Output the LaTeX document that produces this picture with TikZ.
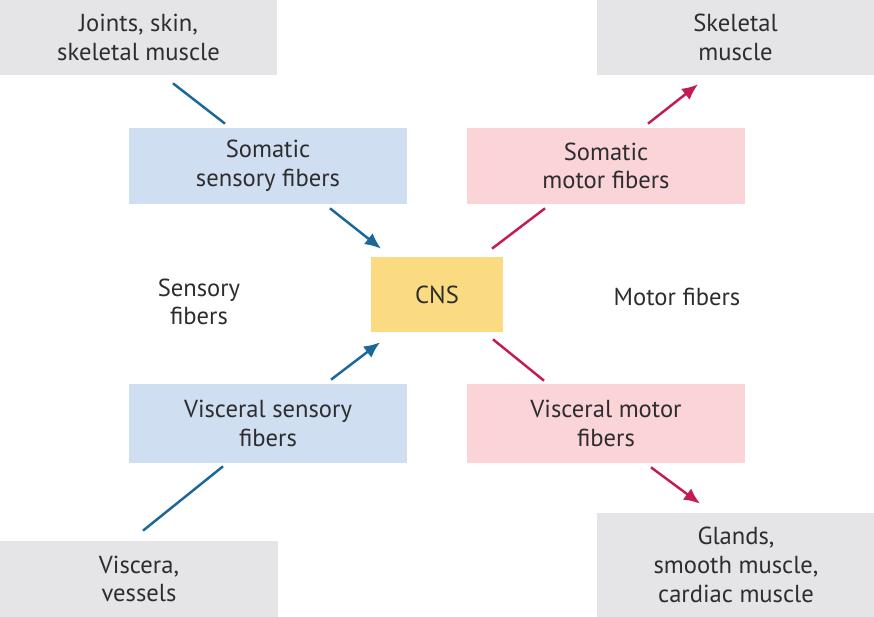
\documentclass[tikz,border=0pt]{standalone}
\usepackage{fontspec}
\setmainfont{PT Sans}
\usetikzlibrary{arrows.meta}

\definecolor{grayfill}{RGB}{229,229,231}
\definecolor{bluefill}{RGB}{207,222,240}
\definecolor{pinkfill}{RGB}{250,212,214}
\definecolor{cnsfill}{RGB}{250,219,130}
\definecolor{bluelin}{RGB}{26,104,154}
\definecolor{pinklin}{RGB}{196,26,88}
\definecolor{txtcol}{RGB}{45,45,47}

\tikzset{
  box/.style={inner sep=0pt, align=center, text=txtcol,
    minimum width=5.56cm, font=\fontsize{14}{16.3}\selectfont},
  graybox/.style={box, fill=grayfill},
  sensbox/.style={box, fill=bluefill},
  motbox/.style={box, fill=pinkfill},
  sensline/.style={draw=bluelin, line width=1.4pt},
  motline/.style={draw=pinklin, line width=1.4pt},
  tip/.style={-{Latex[length=3.2mm,width=2.8mm]}}
}

\begin{document}
\begin{tikzpicture}[x=0.02cm, y=-0.02cm]
 \useasboundingbox (0,0) rectangle (874,617);

 % targets and sources
 \node[graybox, minimum height=1.5cm] (joints) at (138.5,37.5) {Joints, skin,\\skeletal muscle};
 \node[graybox, minimum height=1.5cm] (skelmus) at (735.5,37.5) {Skeletal\\muscle};
 \node[graybox, minimum height=1.52cm] (viscera) at (139,579) {Viscera,\\vessels};
 \node[graybox, minimum height=2.08cm] (glands) at (736,565) {Glands,\\smooth muscle,\\cardiac muscle};

 % fibers
 \node[sensbox, minimum height=1.52cm] (somsens) at (268,166) {Somatic\\sensory fibers};
 \node[motbox, minimum height=1.52cm] (sommot) at (606,166) {Somatic\\motor fibers};
 \node[sensbox, minimum height=1.58cm] (vissens) at (268,423.5) {Visceral sensory\\fibers};
 \node[motbox, minimum height=1.58cm] (vismot) at (606,423.5) {Visceral motor\\fibers};

 \node[box, fill=cnsfill, minimum width=2.64cm, minimum height=1.5cm] (cns) at (437,294.5) {CNS};

 \node[box, minimum width=0pt] (sensory) at (199,302) {Sensory\\fibers};
 \node[box, minimum width=0pt] (motor) at (677,297) {Motor fibers};

 % sensory side
 \draw[sensline] ([shift={(34.5,8)}]joints.south) -- ([shift={(-43,-4)}]somsens.north);
 \draw[sensline, tip] ([shift={(62,4)}]somsens.south) -- ([shift={(-56,-8)}]cns.north);
 \draw[sensline] ([shift={(4,-10)}]viscera.north) -- ([shift={(-45,3)}]vissens.south);
 \draw[sensline, tip] ([shift={(63,-4)}]vissens.north) -- ([shift={(-57,10)}]cns.south);

 % motor side
 \draw[motline] ([shift={(55,-8)}]cns.north) -- ([shift={(-61,4)}]sommot.south);
 \draw[motline, tip] ([shift={(42,-4)}]sommot.north) -- ([shift={(-37.5,9)}]skelmus.south);
 \draw[motline] ([shift={(56,7)}]cns.south) -- ([shift={(-62,-3)}]vismot.north);
 \draw[motline, tip] ([shift={(45,4)}]vismot.south) -- ([shift={(-36,-9)}]glands.north);
\end{tikzpicture}
\end{document}
